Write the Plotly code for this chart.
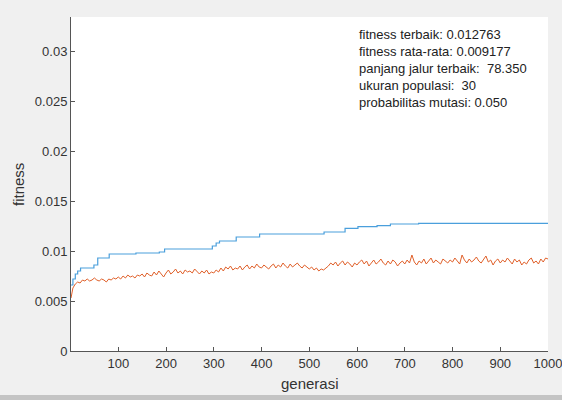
import plotly.graph_objects as go

# ---- data ----
best_gen = [1, 5, 10, 15, 21, 49, 57, 81, 137, 186, 197, 297, 305, 312, 347, 396, 531, 575, 602, 642, 670, 729, 1000]
best_val = [0.0066, 0.0072, 0.0077, 0.0080, 0.0083, 0.0086, 0.0093, 0.0097, 0.0098, 0.0099, 0.0102, 0.0105, 0.0108,
            0.0110, 0.0114, 0.0117, 0.0119, 0.01227, 0.01243, 0.01253, 0.0127, 0.012763, 0.012763]

avg_gen = [1] + list(range(5, 1001, 5))
avg_val = [
    0.0053, 0.0063, 0.0067, 0.0069, 0.0068, 0.0071, 0.0070, 0.0072, 0.0070, 0.0071,
    0.0073, 0.0071, 0.0070, 0.0072, 0.0071, 0.0069, 0.0072, 0.0071, 0.0073, 0.0072,
    0.0074, 0.0072, 0.0075, 0.0073, 0.0076, 0.0074, 0.0075, 0.0073, 0.0076, 0.0075,
    0.0077, 0.0074, 0.0078, 0.0076, 0.0075, 0.0079, 0.0076, 0.0080, 0.0077, 0.0074,
    0.0078, 0.0081, 0.0077, 0.0079, 0.0082, 0.0078, 0.0080, 0.0077, 0.0081, 0.0079,
    0.0080, 0.0078, 0.0082, 0.0079, 0.0077, 0.0080, 0.0078, 0.0081, 0.0077, 0.0079,
    0.0078, 0.0081, 0.0079, 0.0083, 0.0080, 0.0084, 0.0082, 0.0085, 0.0081, 0.0083,
    0.0082, 0.0085, 0.0081, 0.0084, 0.0086, 0.0082, 0.0085, 0.0083, 0.0087, 0.0084,
    0.0083, 0.0086, 0.0084, 0.0082, 0.0085, 0.0087, 0.0083, 0.0086, 0.0084, 0.0088,
    0.0085, 0.0083, 0.0087, 0.0084, 0.0086, 0.0088, 0.0085, 0.0083, 0.0086, 0.0084,
    0.0082, 0.0084, 0.0081, 0.0083, 0.0080, 0.0082, 0.0081, 0.0083, 0.0085, 0.0088,
    0.0086, 0.0089, 0.0085, 0.0088, 0.0090, 0.0086, 0.0089, 0.0087, 0.0084, 0.0088,
    0.0086, 0.0089, 0.0091, 0.0087, 0.0090, 0.0085, 0.0088, 0.0091, 0.0087, 0.0089,
    0.0092, 0.0088, 0.0086, 0.0090, 0.0087, 0.0091, 0.0089, 0.0085, 0.0088, 0.0090,
    0.0087, 0.0091, 0.0088, 0.0096, 0.0089, 0.0086, 0.0090, 0.0088, 0.0092, 0.0087,
    0.0090, 0.0093, 0.0088, 0.0091, 0.0089, 0.0087, 0.0092, 0.0090, 0.0088, 0.0091,
    0.0089, 0.0093, 0.0090, 0.0087, 0.0096, 0.0091, 0.0088, 0.0092, 0.0089, 0.0091,
    0.0094, 0.0090, 0.0088, 0.0092, 0.0095, 0.0089, 0.0091, 0.0086, 0.0090, 0.0092,
    0.0088, 0.0091, 0.0089, 0.0093, 0.0090, 0.0087, 0.0092, 0.0089, 0.0091, 0.0086,
    0.0089, 0.0087, 0.0091, 0.0093, 0.0088, 0.0090, 0.0087, 0.0092, 0.0089, 0.0093,
    0.0092,
]

x_ticks = [100, 200, 300, 400, 500, 600, 700, 800, 900, 1000]
y_ticks = [0, 0.005, 0.01, 0.015, 0.02, 0.025, 0.03]
y_ticktext = ["0", "0.005", "0.01", "0.015", "0.02", "0.025", "0.03"]

info_lines = [
    "fitness terbaik: 0.012763",
    "fitness rata-rata: 0.009177",
    "panjang jalur terbaik:  78.350",
    "ukuran populasi:  30",
    "probabilitas mutasi: 0.050",
]

FONT = "Liberation Sans, Arial, sans-serif"
TXT = "#333333"

# plot area in pixels: x 71..548, y 17..351
L, R, T, B = 71, 14, 17, 49
PW, PH = 562 - L - R, 400 - T - B

fig = go.Figure()
fig.add_trace(go.Scatter(x=best_gen, y=best_val, mode="lines", line_shape="hv",
                         line=dict(color="#4a9fdc", width=1.2), showlegend=False))
fig.add_trace(go.Scatter(x=avg_gen, y=avg_val, mode="lines",
                         line=dict(color="#e0602a", width=1.0), showlegend=False))

fig.update_layout(
    width=562, height=400,
    margin=dict(l=L, r=R, t=T, b=B),
    paper_bgcolor="#f0f0f0", plot_bgcolor="white",
    font=dict(family=FONT, size=13, color=TXT),
    xaxis=dict(range=[1, 1000], tickvals=x_ticks, ticks="inside", ticklen=4,
               tickcolor="#555", showline=True, linecolor="#555", linewidth=1,
               showgrid=False, zeroline=False, automargin=False,
               ticklabeloverflow="allow"),
    yaxis=dict(range=[0, 0.0334], tickvals=y_ticks, ticktext=y_ticktext, ticks="inside",
               ticklen=4, tickcolor="#555", showline=True, linecolor="#555", linewidth=1,
               showgrid=False, zeroline=False, automargin=False,
               ticklabeloverflow="allow"),
    annotations=[
        dict(text="<br>".join(info_lines), xref="paper", yref="paper",
             x=(357 - L) / PW, y=(351 - 25) / PH, xanchor="left", yanchor="top", align="left",
             showarrow=False, font=dict(family=FONT, size=13, color="#222")),
        dict(text="generasi", xref="paper", yref="paper", x=0.5, y=(351 - 383) / PH,
             xanchor="center", yanchor="middle", showarrow=False,
             font=dict(family=FONT, size=15, color=TXT)),
        dict(text="fitness", xref="paper", yref="paper", x=(18 - L) / PW, y=(351 - 185) / PH,
             xanchor="center", yanchor="middle", textangle=-90, showarrow=False,
             font=dict(family=FONT, size=15, color=TXT)),
    ],
    shapes=[dict(type="rect", xref="paper", yref="paper", x0=-0.16, x1=1.04,
                 y0=(351 - 400) / PH, y1=(351 - 395) / PH, fillcolor="#c4c4c4", line=dict(width=0))],
)

fig.write_html("out.html", config={"displayModeBar": False},
               post_script="document.body.style.margin='0';document.body.style.background='#f0f0f0';")
